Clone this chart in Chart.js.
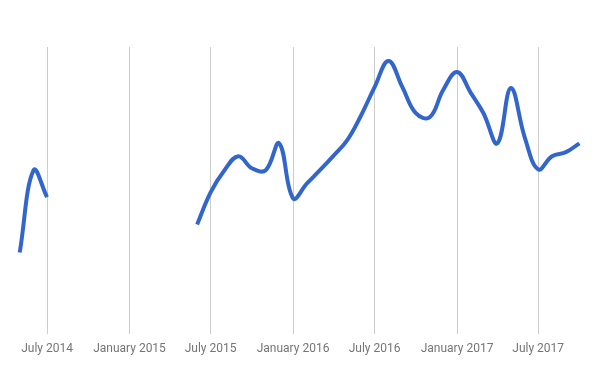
<!DOCTYPE html>
<html>
<head>
<meta charset="utf-8">
<script src="https://cdn.jsdelivr.net/npm/chart.js@4.4.1/dist/chart.umd.min.js"></script>
<style>
  html, body { margin: 0; padding: 0; background: #fff; }
  #wrap { width: 600px; height: 371px; position: relative; }
</style>
</head>
<body>
<div id="wrap"><canvas id="lineChart"></canvas></div>
<script>
// Monthly series, gaps are null
const months = [
    '2014-05', '2014-06', '2014-07', '2014-08', '2014-09', '2014-10', '2014-11', '2014-12',
    '2015-01', '2015-02', '2015-03', '2015-04', '2015-05', '2015-06', '2015-07', '2015-08',
    '2015-09', '2015-10', '2015-11', '2015-12', '2016-01', '2016-02', '2016-03', '2016-04',
    '2016-05', '2016-06', '2016-07', '2016-08', '2016-09', '2016-10', '2016-11', '2016-12',
    '2017-01', '2017-02', '2017-03', '2017-04', '2017-05', '2017-06', '2017-07', '2017-08',
    '2017-09', '2017-10'
];
const values = [
    28.3, 57.0, 47.6, null, null, null, null, null,
    null, null, null, null, null, 38.1, 49.3, 57.0,
    61.9, 57.7, 57.0, 66.4, 47.2, 52.4, 57.0, 62.2,
    67.5, 76.2, 86.0, 95.1, 86.0, 76.9, 75.5, 85.0,
    91.3, 83.9, 76.9, 66.4, 85.7, 68.5, 57.3, 61.9,
    63.3, 66.4
];
const tickMonths = ['2014-07', '2015-01', '2015-07', '2016-01', '2016-07', '2017-01', '2017-07'];
const tickLabels = ['July 2014', 'January 2015', 'July 2015', 'January 2016', 'July 2016', 'January 2017', 'July 2017'];

const toTime = (s) => {
    const [y, m] = s.split('-').map(Number);
    return Date.UTC(y, m - 1, 1);
};
const tickTimes = tickMonths.map(toTime);

const ctx = document.getElementById('lineChart').getContext('2d');
new Chart(ctx, {
    type: 'line',
    data: {
        datasets: [{
            data: months.map((m, i) => ({ x: toTime(m), y: values[i] })),
            borderColor: '#3366cc',
            borderWidth: 4,
            tension: 0.4,
            pointRadius: 0,
            spanGaps: false,
            fill: false
        }]
    },
    options: {
        responsive: true,
        maintainAspectRatio: false,
        animation: false,
        layout: { padding: { top: 47, bottom: 7, left: 0, right: 0 } },
        plugins: { legend: { display: false }, tooltip: { enabled: false } },
        scales: {
            x: {
                type: 'linear',
                min: Date.UTC(2014, 2, 18),
                max: Date.UTC(2017, 10, 16),
                afterBuildTicks: scale => {
                    scale.ticks = tickTimes.map(v => ({ value: v }));
                },
                grid: { color: '#cccccc', drawTicks: false },
                border: { display: false },
                ticks: {
                    autoSkip: false,
                    maxRotation: 0,
                    padding: 8,
                    color: '#757575',
                    font: { family: 'Roboto', size: 12 },
                    callback: value => tickLabels[tickTimes.indexOf(value)]
                }
            },
            y: {
                display: false,
                min: 0,
                max: 100
            }
        }
    }
});
</script>
</body>
</html>
